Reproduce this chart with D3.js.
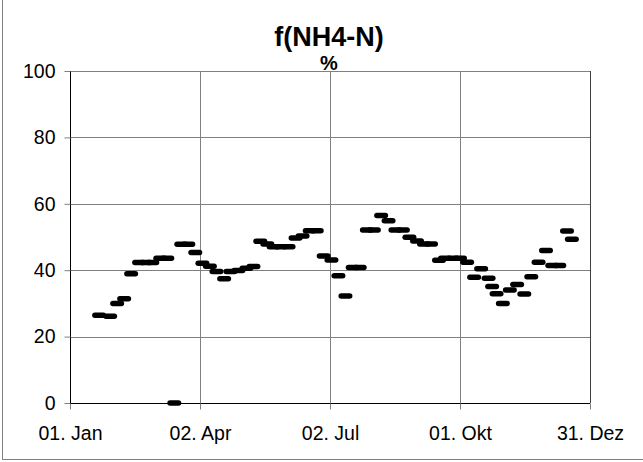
<!DOCTYPE html>
<html><head><meta charset="utf-8">
<script src="https://cdn.jsdelivr.net/npm/d3@7"></script>
<style>body{margin:0;background:#fff}svg{display:block;font-family:"Liberation Sans",Arial,sans-serif}</style>
</head><body><svg id="c" width="643" height="462"></svg>
<script>
const title = "f(NH4-N)";
const unit = "%";
const xTickDays = [0, 91, 182, 273, 364];
const xTickLabels = ["01. Jan", "02. Apr", "02. Jul", "01. Okt", "31. Dez"];
const yTicks = [0, 20, 40, 60, 80, 100];
const days = [20.4,28.1,33.0,37.9,42.8,48.4,53.3,57.6,63.2,68.1,73.0,77.9,82.8,87.7,92.7,97.9,102.5,107.9,112.3,117.9,123.5,128.4,133.2,138.1,142.5,147.4,153.0,157.9,162.8,167.8,172.7,177.6,183.0,187.9,192.8,197.9,202.8,207.8,212.7,217.8,223.0,227.8,233.0,237.6,242.9,247.8,252.7,258.3,262.5,268.1,273.0,278.0,282.9,287.8,293.0,295.5,298.6,303.0,307.9,313.0,318.0,322.9,328.0,333.2,337.6,342.5,347.9,351.3];
const values = [26.4,26.1,30.0,31.4,38.9,42.3,42.3,42.3,43.6,43.6,0,47.8,47.8,45.3,42.1,41.2,39.6,37.4,39.6,39.9,40.6,41.1,48.7,47.9,47.1,47.1,47.1,49.7,50.3,51.9,51.9,44.3,43.1,38.3,32.2,40.8,40.8,52.1,52.1,56.5,54.9,52.1,52.1,49.9,48.8,47.9,47.9,43.0,43.6,43.6,43.6,42.4,37.9,40.4,37.6,35.1,32.9,30.0,34.0,35.7,32.8,38.0,42.4,45.9,41.4,41.4,51.8,49.3];

const svg = d3.select("#c");
const L = 70, R = 590, T = 71, B = 403;
const x = d3.scaleLinear().domain([0, 364]).range([L, R]);
const y = d3.scaleLinear().domain([0, 100]).range([B, T]);
const FONT = "Liberation Sans, Arial, sans-serif";

// outer frame
svg.append("rect").attr("x", 2.5).attr("y", -5).attr("width", 700).attr("height", 464.5)
  .attr("fill", "none").attr("stroke", "#808080").attr("stroke-width", 1);

// gridlines
svg.append("g").selectAll("line").data(yTicks.filter(d => d > 0)).join("line")
  .attr("x1", L).attr("x2", R).attr("y1", d => Math.round(y(d)) + 0.5).attr("y2", d => Math.round(y(d)) + 0.5)
  .attr("stroke", "#808080");
svg.append("g").selectAll("line").data(xTickDays.slice(1, 4)).join("line")
  .attr("y1", T).attr("y2", B).attr("x1", d => Math.round(x(d)) + 0.5).attr("x2", d => Math.round(x(d)) + 0.5)
  .attr("stroke", "#808080");
// right border
svg.append("line").attr("x1", R + 0.5).attr("x2", R + 0.5).attr("y1", T).attr("y2", B).attr("stroke", "#404040");

// axes
const yAxis = d3.axisLeft(y).tickValues(yTicks).tickSize(6).tickPadding(9).tickFormat(d3.format("d"));
const gy = svg.append("g").attr("transform", `translate(${L + 0.5},0)`).call(yAxis);
gy.select(".domain").attr("stroke", "#000").attr("d", `M0,${B}V${T}`);
gy.selectAll(".tick line").attr("stroke", "#808080");
gy.selectAll(".tick text").attr("font-size", 19.5).attr("fill", "#000").attr("font-family", FONT);

const xAxis = d3.axisBottom(x).tickValues(xTickDays).tickSize(6).tickPadding(17).tickFormat((d, i) => xTickLabels[i]);
const gx = svg.append("g").attr("transform", `translate(0,${B + 0.5})`).call(xAxis);
gx.select(".domain").attr("stroke", "#000").attr("d", `M${L},0H${R}`);
gx.selectAll(".tick line").attr("stroke", "#808080");
gx.selectAll(".tick text").attr("font-size", 19.5).attr("fill", "#000").attr("font-family", FONT);

// data dashes
const data = days.map((d, i) => ({ d, v: values[i] }));
svg.append("g").selectAll("rect").data(data).join("rect")
  .attr("x", p => x(p.d) - 7).attr("y", p => y(p.v) - 2.75)
  .attr("width", 14).attr("height", 5.5).attr("rx", 2.75).attr("fill", "#000");

// titles
svg.append("text").attr("x", 329).attr("y", 46).attr("text-anchor", "middle").attr("font-family", FONT)
  .attr("font-size", 27).attr("font-weight", "bold").text(title);
svg.append("text").attr("x", 329).attr("y", 70).attr("text-anchor", "middle").attr("font-family", FONT)
  .attr("font-size", 20).attr("font-weight", "bold").text(unit);
</script></body></html>
